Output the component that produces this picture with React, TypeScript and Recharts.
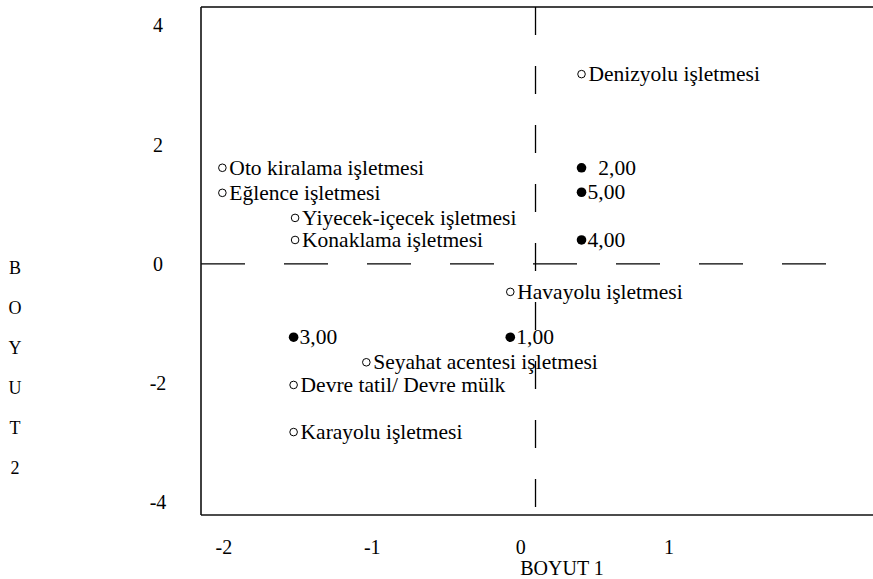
import React from 'react';
import { ScatterChart, Scatter, XAxis, YAxis, ReferenceLine, Label } from 'recharts';

// Open circles: sectors
const sectorLabels = [
  'Denizyolu işletmesi',
  'Oto kiralama işletmesi',
  'Eğlence işletmesi',
  'Yiyecek-içecek işletmesi',
  'Konaklama işletmesi',
  'Havayolu işletmesi',
  'Seyahat acentesi işletmesi',
  'Devre tatil/ Devre mülk',
  'Karayolu işletmesi',
];
const sectorDim1 = [0.41, -2.01, -2.01, -1.52, -1.52, -0.07, -1.04, -1.53, -1.53];
const sectorDim2 = [3.18, 1.61, 1.19, 0.77, 0.4, -0.47, -1.65, -2.03, -2.82];

// Filled circles: groups
const groupLabels = ['  2,00', '5,00', '4,00', '3,00', '1,00'];
const groupDim1 = [0.41, 0.41, 0.41, -1.53, -0.07];
const groupDim2 = [1.61, 1.2, 0.4, -1.23, -1.23];

const xTicks = [-2, -1, 0, 1];
const yTicks = [4, 2, 0, -2, -4];
const xTitle = 'BOYUT 1';
const yTitleLetters = ['B', 'O', 'Y', 'U', 'T', '2'];

const X_MIN = -2.154;
const X_MAX = 2.374;
const Y_MIN = -4.21;
const Y_MAX = 4.305;
const H_LINE_END = 2.15;
const V_LINE_X = 0.1;

const FONT = '"Liberation Serif", "Times New Roman", serif';

const sectorData = sectorLabels.map((name, i) => ({ name, x: sectorDim1[i], y: sectorDim2[i] }));
const groupData = groupLabels.map((name, i) => ({ name, x: groupDim1[i], y: groupDim2[i] }));

const OpenShape = (props: any) => {
  const { cx, cy, payload } = props;
  return (
    <g>
      <circle cx={cx} cy={cy} r={3.8} fill="#fff" stroke="#000" strokeWidth={1} />
      <text x={cx + 7} y={cy + 7} fontSize={21.5} fill="#000" style={{ whiteSpace: 'pre', fontFamily: FONT }}>
        {payload.name}
      </text>
    </g>
  );
};

const FilledShape = (props: any) => {
  const { cx, cy, payload } = props;
  return (
    <g>
      <circle cx={cx} cy={cy} r={4.8} fill="#000" />
      <text x={cx + 6} y={cy + 7} fontSize={21.5} fill="#000" style={{ whiteSpace: 'pre', fontFamily: FONT }}>
        {payload.name}
      </text>
    </g>
  );
};

const YTick = (props: any) => {
  const { x, y, payload } = props;
  return (
    <text x={x} y={y} dy="0.35em" textAnchor="middle" fontSize={20} fill="#000" style={{ fontFamily: FONT }}>
      {payload.value}
    </text>
  );
};

const XTick = (props: any) => {
  const { x, y, payload } = props;
  return (
    <text x={x} y={y} dy="0.71em" textAnchor="middle" fontSize={20} fill="#000" style={{ fontFamily: FONT }}>
      {payload.value}
    </text>
  );
};

export default function App() {
  return (
    <div style={{ position: 'absolute', left: 0, top: 0, width: 873, height: 579, background: '#fff' }}>
      <ScatterChart width={873} height={579} margin={{ top: 7, right: 0, bottom: 0, left: 0 }}>
        <XAxis
          type="number"
          dataKey="x"
          domain={[X_MIN, X_MAX]}
          ticks={xTicks}
          allowDataOverflow
          height={64}
          tickLine={false}
          tickSize={0}
          tickMargin={25}
          tick={<XTick />}
          axisLine={{ stroke: '#111', strokeWidth: 1.6 }}
        >
          <Label
            content={(p: any) => {
              const vb = p.viewBox;
              return (
                <text
                  x={vb.x + vb.width / 2 + 25}
                  y={vb.y + vb.height - 4}
                  textAnchor="middle"
                  fontSize={20}
                  fill="#000"
                  style={{ fontFamily: FONT }}
                >
                  {xTitle}
                </text>
              );
            }}
          />
        </XAxis>
        <YAxis
          type="number"
          dataKey="y"
          domain={[Y_MIN, Y_MAX]}
          ticks={yTicks}
          allowDataOverflow
          width={201}
          tickLine={false}
          tickSize={0}
          tickMargin={43}
          tick={<YTick />}
          axisLine={{ stroke: '#111', strokeWidth: 1.6 }}
        >
          <Label
            content={(p: any) => {
              const vb = p.viewBox;
              return (
                <text textAnchor="middle" fontSize={18} fill="#000" style={{ fontFamily: FONT }}>
                  {yTitleLetters.map((l, i) => (
                    <tspan key={i} x={vb.x + 15} y={vb.y + 267 + i * 40}>
                      {l}
                    </tspan>
                  ))}
                </text>
              );
            }}
          />
        </YAxis>
        <ReferenceLine y={Y_MAX} stroke="#444" strokeWidth={2} />
        <ReferenceLine
          segment={[
            { x: X_MIN, y: 0 },
            { x: H_LINE_END, y: 0 },
          ]}
          stroke="#000"
          strokeWidth={1.3}
          strokeDasharray="44 39"
        />
        <ReferenceLine
          segment={[
            { x: V_LINE_X, y: Y_MAX },
            { x: V_LINE_X, y: Y_MIN },
          ]}
          stroke="#000"
          strokeWidth={1.3}
          strokeDasharray="28 31"
        />
        <Scatter data={sectorData} shape={<OpenShape />} isAnimationActive={false} />
        <Scatter data={groupData} shape={<FilledShape />} isAnimationActive={false} />
      </ScatterChart>
    </div>
  );
}
